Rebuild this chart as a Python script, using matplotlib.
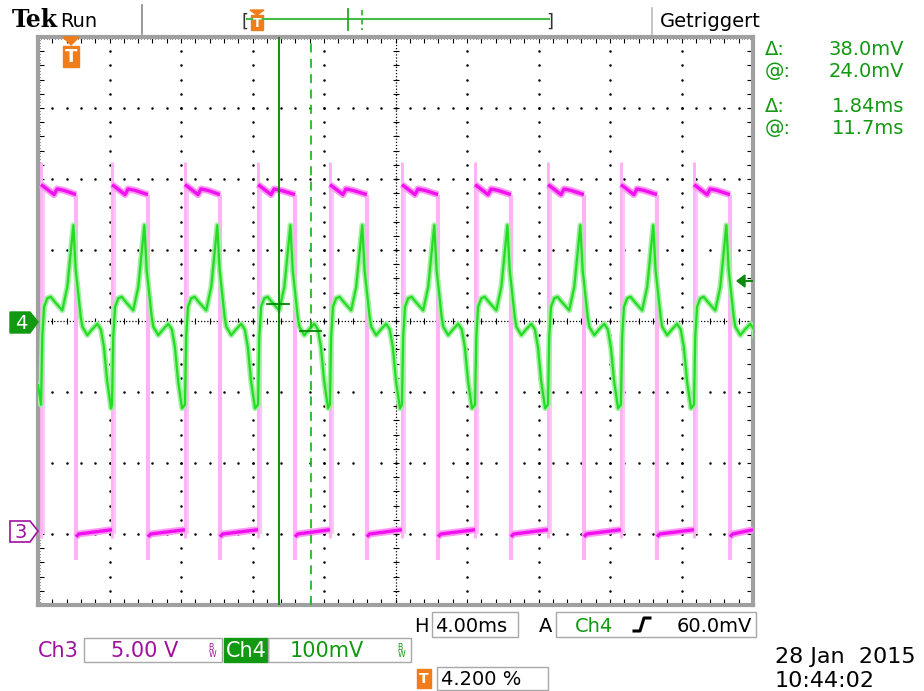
import matplotlib
matplotlib.use('Agg')
import matplotlib.pyplot as plt
import numpy as np
from matplotlib.patches import Rectangle, Polygon

# scope settings
ms_per_div = 4.0
ch4_mv_per_div = 100.0
ch3_v_per_div = 5.0
ch3_ground_div = -3.0
trigger_ms = 1.68
trig_level_mv = 60.0
cursor_ms = [13.46, 15.30]
cursor_mv = [24.0, -14.0]

# Ch3 (magenta) edges, ms from left of screen
rise_ms = [0.17, 4.14, 8.22, 12.31, 16.33, 20.36, 24.45, 28.53, 32.61, 36.70]
fall_ms = [2.13, 6.15, 10.18, 14.38, 18.40, 22.38, 26.46, 30.54, 34.63, 38.71]

# Ch3 pulse top: ms after rise, volts
high_t = [0.0, 0.22, 0.73, 0.90, 1.28]
high_v = [24.6, 24.4, 23.9, 24.3, 24.2]
high_end_v = 23.9
low_v = [-0.2, 0.0, 0.3]
spike_v = 26.2

# Ch4 (green) shape for one cycle: ms after rise, mV
g_t = [0.0, 0.07, 0.17, 0.35, 0.54, 0.80, 1.19, 1.47, 1.66, 1.81, 1.94, 2.22,
       2.31, 2.59, 2.85, 3.15, 3.35, 3.52, 3.70, 3.92]
g_mv = [-118, -22, 20, 32, 34, 26, 15, 48, 96, 135, 72, 6,
        -8, -20, -12, -4, -12, -37, -85, -123]


def c3(v):
    return v / ch3_v_per_div + ch3_ground_div


fig = plt.figure(figsize=(9.24, 6.91), dpi=100)
fig.patch.set_facecolor('white')
ax = fig.add_axes([38/924, (691-605)/691, 715/924, 568/691])
ax.set_xlim(0, 40)
ax.set_ylim(-4, 4)

# graticule
for gx in np.arange(4, 40, 4):
    if gx == 20:
        continue
    yy = np.arange(-3.8, 4, 0.2)
    ax.plot([gx]*len(yy), yy, 'k.', ms=1.6, zorder=1)
for gy in [-3, -2, -1, 1, 2, 3]:
    xx = np.arange(0.8, 40, 0.8)
    ax.plot(xx, [gy]*len(xx), 'k.', ms=1.6, zorder=1)
ax.axhline(0, color='k', lw=0.9, ls=(0, (1, 1.5)), zorder=1)
ax.axvline(20, color='k', lw=0.9, ls=(0, (1, 1.5)), zorder=1)
xx = np.arange(0.8, 40, 0.8)
ax.plot(xx, [0]*len(xx), 'k|', ms=5, mew=0.8, zorder=1)
yy = np.arange(-3.8, 4, 0.2)
ax.plot([20]*len(yy), yy, 'k_', ms=5, mew=0.8, zorder=1)

for s in ax.spines.values():
    s.set_color('#a0a0a0')
    s.set_linewidth(3)
ax.set_xticks(np.arange(0, 40.01, 0.8))
ax.set_xticks(np.arange(0, 40.01, 0.16), minor=True)
ax.set_yticks(np.arange(-4, 4.01, 0.2))
ax.set_yticks(np.arange(-4, 4.01, 0.04), minor=True)
ax.tick_params(which='both', direction='in', top=True, right=True,
               labelbottom=False, labelleft=False, color='k')
ax.tick_params(which='major', length=4, width=0.8)
ax.tick_params(which='minor', length=1.5, width=0.6)

# Ch3 trace
c3x, c3y = [], []
for i, (r, f) in enumerate(zip(rise_ms, fall_ms)):
    c3x += [r + t for t in high_t] + [f, np.nan]
    c3y += [c3(v) for v in high_v] + [c3(high_end_v), np.nan]
    nxt = rise_ms[i+1] if i + 1 < len(rise_ms) else 40.0
    c3x += [f, f + 0.15, nxt, np.nan]
    c3y += [c3(v) for v in low_v] + [np.nan]
ax.vlines(rise_ms, c3(-0.3), c3(spike_v), color='#ffb3f6', lw=2.2, zorder=2)
ax.vlines([r + 0.18 for r in rise_ms], c3(0), c3(high_v[0]), color='#ffc6f8', lw=1.6, zorder=2)
ax.vlines(fall_ms, c3(-1.8), c3(high_end_v), color='#ffb3f6', lw=3, zorder=2)
ax.plot(c3x, c3y, color='#ff99f4', lw=5, zorder=3, solid_capstyle='butt')
ax.plot(c3x, c3y, color='#f010f0', lw=2.4, zorder=3, solid_capstyle='butt')

# Ch4 trace
gxs, gys = [0.0], [-90.0]
for r in rise_ms:
    gxs += [r + t for t in g_t]
    gys += g_mv
gys = [v / ch4_mv_per_div for v in gys]
ax.plot(gxs, gys, color='#a3eea3', lw=4, zorder=4)
ax.plot(gxs, gys, color='#22dd22', lw=1.6, zorder=5)

# cursors
ax.axvline(cursor_ms[0], color='#008800', lw=1.3, zorder=6)
ax.axvline(cursor_ms[1], color='#22bb22', lw=1.3, ls=(0, (5, 3.5)), zorder=6)
ax.plot([cursor_ms[0] - 0.67, cursor_ms[0] + 0.56], [cursor_mv[0] / 100]*2, color='#008800', lw=1.3, zorder=6)
ax.plot([cursor_ms[1] - 0.62, cursor_ms[1] + 0.56], [cursor_mv[1] / 100]*2, color='#008800', lw=1.3, zorder=6)

# overlay in pixel coords
ov = fig.add_axes([0, 0, 1, 1], zorder=10)
ov.set_xlim(0, 924)
ov.set_ylim(691, 0)
ov.axis('off')

orange = '#f07d1a'
green_txt = '#119911'
purple = '#a010a0'
box_ec = '#a8a8a8'
narrow = ['Liberation Sans Narrow', 'DejaVu Sans']

ov.text(12, 27, 'Tek', fontsize=17, fontweight='bold', family='DejaVu Serif', va='baseline')
ov.text(60, 27, 'Run', fontsize=14, va='baseline')
ov.plot([142, 142], [5, 34], color='#888888', lw=1.2)
ov.plot([652, 652], [8, 34], color='#bbbbbb', lw=1.2)
ov.text(660, 27, 'Getriggert', fontsize=14, va='baseline')

# record bar
ov.plot([247, 549], [19, 19], color='#44bb44', lw=1.5)
ov.text(245, 27, '[', fontsize=13, va='baseline', ha='center', color='#333333')
ov.text(550, 27, ']', fontsize=13, va='baseline', ha='center', color='#333333')
ov.plot([348, 348], [9, 30], color='#22aa22', lw=1.3)
ov.plot([362, 362], [10, 30], color='#33bb33', lw=1.3, ls=(0, (3, 2)))
ov.add_patch(Polygon([[250, 10], [264, 10], [257, 15]], closed=True, color=orange))
ov.add_patch(Rectangle((251, 15), 12, 15, color=orange))
ov.text(257, 23, 'T', color='white', fontsize=9, fontweight='bold', ha='center', va='center')

# trigger marker in plot
ov.add_patch(Polygon([[63, 37], [79, 37], [71, 45]], closed=True, color=orange))
ov.add_patch(Rectangle((63, 46), 16, 21, color=orange))
ov.text(71, 57, 'T', color='white', fontsize=13, fontweight='bold', ha='center', va='center')

# channel markers
ov.add_patch(Polygon([[10, 312], [30, 312], [38, 322], [30, 333], [10, 333]], closed=True, color='#119911'))
ov.text(21, 323, '4', color='white', fontsize=14, ha='center', va='center')
ov.add_patch(Polygon([[10, 521], [30, 521], [38, 531], [30, 542], [10, 542]], closed=True,
                     fc='white', ec=purple, lw=1.2))
ov.text(21, 532, '3', color=purple, fontsize=14, ha='center', va='center')

# trigger level arrow
ov.add_patch(Polygon([[737, 281], [745, 275], [745, 287]], closed=True, color='#118811'))
ov.plot([745, 752], [281, 281], color='#118811', lw=1.5)

# readouts
for yb, a, b in [(55, 'Δ:', '38.0mV'), (77, '@:', '24.0mV'),
                 (112, 'Δ:', '1.84ms'), (134, '@:', '11.7ms')]:
    ov.text(765, yb, a, color=green_txt, fontsize=14, va='baseline')
    ov.text(904, yb, b, color=green_txt, fontsize=14, va='baseline', ha='right')

# bottom row 1
ov.text(414, 632, 'H', fontsize=14, va='baseline')
ov.add_patch(Rectangle((432, 612), 86, 25, fc='none', ec=box_ec, lw=1))
ov.text(435, 632, '4.00ms', fontsize=14, va='baseline')
ov.text(539, 632, 'A', fontsize=14, va='baseline')
ov.add_patch(Rectangle((556, 612), 200, 25, fc='none', ec=box_ec, lw=1))
ov.text(575, 632, 'Ch4', fontsize=14, va='baseline', color=green_txt)
ov.plot([634, 640, 644, 650], [631, 631, 618, 618], color='k', lw=2.2)
ov.text(752, 632, '60.0mV', fontsize=14, va='baseline', ha='right')

# bottom row 2
ov.text(38, 657, 'Ch3', fontsize=15, va='baseline', color=purple, family=narrow)
ov.add_patch(Rectangle((84, 638), 138, 24, fc='none', ec=box_ec, lw=1))
ov.text(145, 657, '5.00 V', fontsize=15, va='baseline', ha='center', color=purple, family=narrow)
ov.text(213, 651, r'$^\mathrm{B}_\mathrm{W}$', fontsize=8, color=purple, ha='center', va='center')
ov.add_patch(Rectangle((224, 638), 44, 24, color='#119911'))
ov.text(246, 657, 'Ch4', fontsize=15, va='baseline', ha='center', color='white', family=narrow)
ov.add_patch(Rectangle((268, 638), 143, 24, fc='none', ec=box_ec, lw=1))
ov.text(327, 657, '100mV', fontsize=15, va='baseline', ha='center', color=green_txt, family=narrow)
ov.text(402, 651, r'$^\mathrm{B}_\mathrm{W}$', fontsize=8, color=green_txt, ha='center', va='center')

# bottom row 3
ov.add_patch(Rectangle((417, 669), 14, 19, color=orange))
ov.text(424, 679, 'T', color='white', fontsize=10, fontweight='bold', ha='center', va='center')
ov.add_patch(Rectangle((437, 667), 111, 23, fc='none', ec=box_ec, lw=1))
ov.text(441, 685, '4.200 %', fontsize=14, va='baseline')

# date
ov.text(775, 663, '28 Jan  2015', fontsize=16, va='baseline', family=narrow)
ov.text(775, 687, '10:44:02', fontsize=16, va='baseline', family=narrow)

fig.savefig('out.png', dpi=100)
